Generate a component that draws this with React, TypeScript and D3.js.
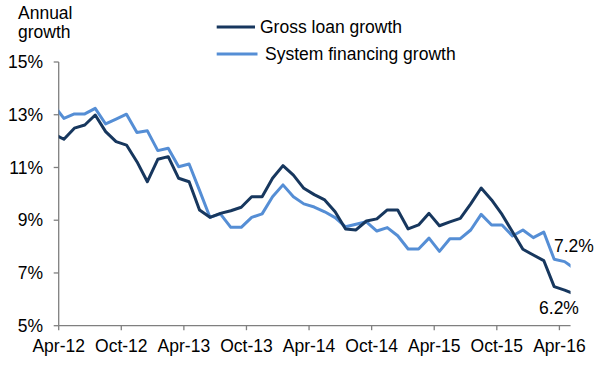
import React from "react";
import * as d3 from "d3";

// Monthly observations (Mar-12 .. May-16); plotted mid-month, axis clipped Apr-12 .. May-16
const months = [
  "Mar-12","Apr-12","May-12","Jun-12","Jul-12","Aug-12","Sep-12","Oct-12","Nov-12","Dec-12",
  "Jan-13","Feb-13","Mar-13","Apr-13","May-13","Jun-13","Jul-13","Aug-13","Sep-13","Oct-13",
  "Nov-13","Dec-13","Jan-14","Feb-14","Mar-14","Apr-14","May-14","Jun-14","Jul-14","Aug-14",
  "Sep-14","Oct-14","Nov-14","Dec-14","Jan-15","Feb-15","Mar-15","Apr-15","May-15","Jun-15",
  "Jul-15","Aug-15","Sep-15","Oct-15","Nov-15","Dec-15","Jan-16","Feb-16","Mar-16","Apr-16","May-16",
];

const grossLoanGrowth = [
  12.27, 12.07, 12.49, 12.61, 12.99, 12.36, 11.98, 11.85, 11.22, 10.46,
  11.31, 11.41, 10.59, 10.46, 9.39, 9.11, 9.26, 9.36, 9.49, 9.89,
  9.89, 10.59, 11.07, 10.71, 10.21, 9.97, 9.77, 9.32, 8.67, 8.63,
  8.97, 9.05, 9.39, 9.39, 8.67, 8.82, 9.26, 8.79, 8.94, 9.07,
  9.62, 10.22, 9.77, 9.22, 8.56, 7.9, 7.68, 7.47, 6.48, 6.35, 6.2,
];

const systemFinancingGrowth = [
  13.38, 12.86, 13.03, 13.03, 13.24, 12.65, 12.83, 13.02, 12.33, 12.39,
  11.64, 11.73, 11.03, 11.13, 10.13, 9.11, 9.24, 8.73, 8.73, 9.11,
  9.24, 9.89, 10.34, 9.89, 9.62, 9.5, 9.32, 9.1, 8.75, 8.85,
  8.94, 8.59, 8.72, 8.41, 7.91, 7.91, 8.32, 7.82, 8.3, 8.3,
  8.63, 9.22, 8.82, 8.82, 8.4, 8.63, 8.34, 8.55, 7.52, 7.43, 7.15,
];

const xTickLabels = ["Apr-12","Oct-12","Apr-13","Oct-13","Apr-14","Oct-14","Apr-15","Oct-15","Apr-16"];
const yTicks = [5, 7, 9, 11, 13, 15];

const seriesNames = ["Gross loan growth", "System financing growth"];
const endLabels = ["6.2%", "7.2%"];

const DARK = "#17375e";
const LIGHT = "#558ed5";
const AXIS = "#7f7f7f";
const FONT = "'Liberation Sans', Arial, sans-serif";

export default function App() {
  const W = 609, H = 383;
  // x in months from Apr-12 tick (0)
  const x = d3.scaleLinear().domain([0, 48]).range([58.7, 559.4]);
  const y = d3.scaleLinear().domain([5, 15]).range([325.7, 62]);
  const xMax = 49.07;
  const plotLeft = x(0), plotRight = x(xMax);

  const pos = (i: number) => x(i - 0.5);
  const line = d3.line<number>().x((_, i) => pos(i)).y((v) => y(v));

  const fs = 17.5;

  return (
    <svg width={W} height={H} style={{ position: "absolute", left: 0, top: 0, background: "#fff" }} fontFamily={FONT}>
      <defs>
        <clipPath id="plot">
          <rect x={plotLeft} y={0} width={plotRight - plotLeft} height={H} />
        </clipPath>
      </defs>

      <text x={18} y={19} fontSize={fs} fill="#000">Annual</text>
      <text x={18} y={37.5} fontSize={fs} fill="#000">growth</text>

      {/* y axis */}
      <line x1={plotLeft} x2={plotLeft} y1={y(15)} y2={y(5)} stroke={AXIS} strokeWidth={1.3} />
      {yTicks.map((t) => (
        <g key={t}>
          <line x1={plotLeft - 5} x2={plotLeft} y1={y(t)} y2={y(t)} stroke={AXIS} strokeWidth={1.3} />
          <text x={43} y={y(t)} dy="0.35em" textAnchor="end" fontSize={fs} fill="#000">{t}%</text>
        </g>
      ))}

      {/* x axis */}
      <line x1={plotLeft} x2={plotRight} y1={y(5)} y2={y(5)} stroke={AXIS} strokeWidth={1.3} />
      {xTickLabels.map((lab, i) => (
        <g key={lab}>
          <line x1={x(i * 6)} x2={x(i * 6)} y1={y(5)} y2={y(5) + 4.5} stroke={AXIS} strokeWidth={1.3} />
          <text x={x(i * 6)} y={352.3} textAnchor="middle" fontSize={fs} fill="#000">{lab}</text>
        </g>
      ))}

      <g clipPath="url(#plot)">
        <path d={line(systemFinancingGrowth) || ""} fill="none" stroke={LIGHT} strokeWidth={3} strokeLinejoin="round" />
        <path d={line(grossLoanGrowth) || ""} fill="none" stroke={DARK} strokeWidth={3} strokeLinejoin="round" />
      </g>

      {/* end labels */}
      <text x={554} y={251.7} fontSize={fs} fill="#000">{endLabels[1]}</text>
      <text x={559} y={314} textAnchor="middle" fontSize={fs} fill="#000">{endLabels[0]}</text>

      {/* legend */}
      <line x1={216.7} x2={255} y1={27} y2={27} stroke={DARK} strokeWidth={3} />
      <text x={260} y={33.3} fontSize={fs} fill="#000">{seriesNames[0]}</text>
      <line x1={216.7} x2={257.5} y1={54} y2={54} stroke={LIGHT} strokeWidth={3} />
      <text x={265} y={60} fontSize={fs} fill="#000">{seriesNames[1]}</text>
    </svg>
  );
}
